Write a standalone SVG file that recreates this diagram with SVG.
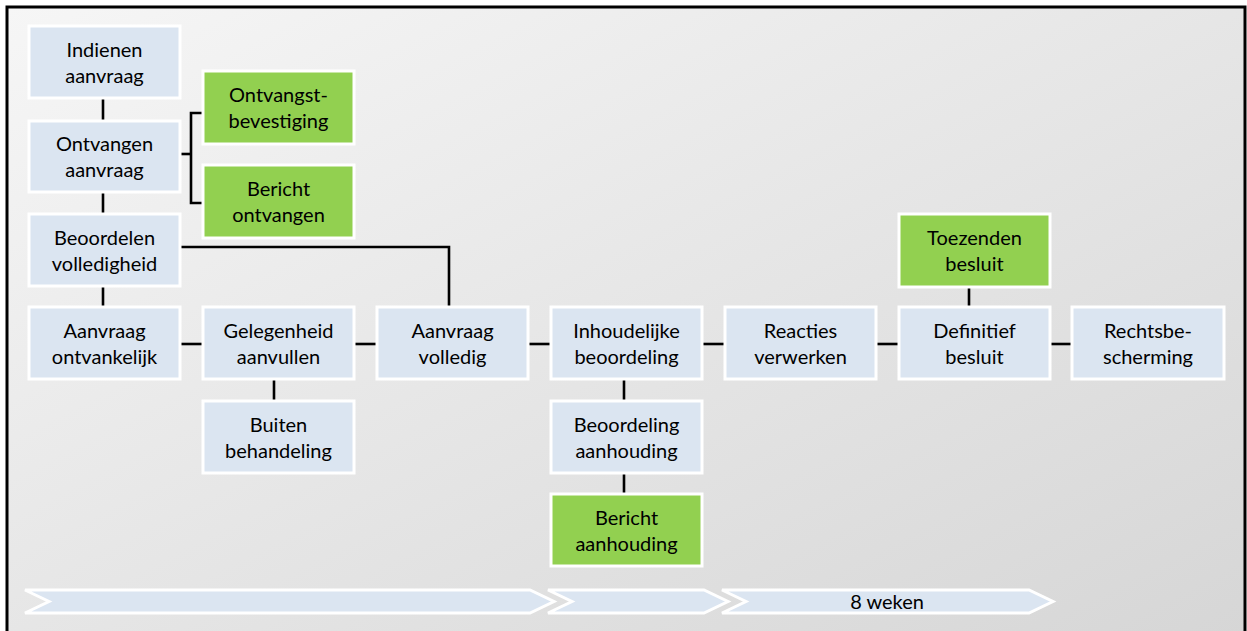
<svg xmlns="http://www.w3.org/2000/svg" width="1247" height="631" viewBox="0 0 1247 631">
  <defs>
    <linearGradient id="bg" x1="0" y1="0" x2="1" y2="1">
      <stop offset="0" stop-color="#f6f6f6"/>
      <stop offset="1" stop-color="#d6d6d6"/>
    </linearGradient>
    <style>
      .step { fill: #dbe5f1; stroke: #ffffff; stroke-width: 3; }
      .msg { fill: #92d050; stroke: #ffffff; stroke-width: 3; }
      .lbl { font-family: Lato, "Liberation Sans", sans-serif; font-size: 20px; fill: #000000; text-anchor: middle; }
      .link { fill: none; stroke: #000000; stroke-width: 2.6; }
      .phase { fill: #dbe5f1; stroke: #ffffff; stroke-width: 3; stroke-linejoin: miter; }
    </style>
  </defs>

  <!-- background panel with frame -->
  <rect x="7" y="7" width="1238" height="630" fill="url(#bg)" stroke="#000000" stroke-width="3"/>

  <!-- connectors -->
  <g id="connectors" class="link">
    <path class="link" d="M103,98 V121"/>
    <path class="link" d="M103,192 V214"/>
    <path class="link" d="M103,286 V307"/>
    <path class="link" d="M180,154 H191"/>
    <path class="link" d="M203,113 H191 V203 H203"/>
    <path class="link" d="M180,247 H449 V307"/>
    <path class="link" d="M180,344 H203"/>
    <path class="link" d="M354,344 H377"/>
    <path class="link" d="M528,344 H551"/>
    <path class="link" d="M702,344 H725"/>
    <path class="link" d="M876,344 H899"/>
    <path class="link" d="M1050,344 H1072"/>
    <path class="link" d="M274,379 V401"/>
    <path class="link" d="M624,379 V401"/>
    <path class="link" d="M624,473 V494"/>
    <path class="link" d="M969,287 V307"/>
  </g>

  <!-- process steps -->
  <g id="indienen-aanvraag">
    <rect class="step" x="29" y="26" width="151" height="72"/>
    <text class="lbl" x="104.5" y="57">Indienen</text>
    <text class="lbl" x="104.5" y="83">aanvraag</text>
  </g>
  <g id="ontvangen-aanvraag">
    <rect class="step" x="29" y="121" width="151" height="71"/>
    <text class="lbl" x="104.5" y="151">Ontvangen</text>
    <text class="lbl" x="104.5" y="177">aanvraag</text>
  </g>
  <g id="beoordelen-volledigheid">
    <rect class="step" x="29" y="214" width="151" height="72"/>
    <text class="lbl" x="104.5" y="245">Beoordelen</text>
    <text class="lbl" x="104.5" y="271">volledigheid</text>
  </g>
  <g id="aanvraag-ontvankelijk">
    <rect class="step" x="29" y="307" width="151" height="72"/>
    <text class="lbl" x="104.5" y="338">Aanvraag</text>
    <text class="lbl" x="104.5" y="364">ontvankelijk</text>
  </g>
  <g id="ontvangstbevestiging">
    <rect class="msg" x="203" y="71" width="151" height="73"/>
    <text class="lbl" x="278.5" y="102">Ontvangst-</text>
    <text class="lbl" x="278.5" y="128">bevestiging</text>
  </g>
  <g id="bericht-ontvangen">
    <rect class="msg" x="203" y="165" width="151" height="73"/>
    <text class="lbl" x="278.5" y="196">Bericht</text>
    <text class="lbl" x="278.5" y="222">ontvangen</text>
  </g>
  <g id="gelegenheid-aanvullen">
    <rect class="step" x="203" y="307" width="151" height="72"/>
    <text class="lbl" x="278.5" y="338">Gelegenheid</text>
    <text class="lbl" x="278.5" y="364">aanvullen</text>
  </g>
  <g id="buiten-behandeling">
    <rect class="step" x="203" y="401" width="151" height="72"/>
    <text class="lbl" x="278.5" y="432">Buiten</text>
    <text class="lbl" x="278.5" y="458">behandeling</text>
  </g>
  <g id="aanvraag-volledig">
    <rect class="step" x="377" y="307" width="151" height="72"/>
    <text class="lbl" x="452.5" y="338">Aanvraag</text>
    <text class="lbl" x="452.5" y="364">volledig</text>
  </g>
  <g id="inhoudelijke-beoordeling">
    <rect class="step" x="551" y="307" width="151" height="72"/>
    <text class="lbl" x="626.5" y="338">Inhoudelijke</text>
    <text class="lbl" x="626.5" y="364">beoordeling</text>
  </g>
  <g id="beoordeling-aanhouding">
    <rect class="step" x="551" y="401" width="151" height="72"/>
    <text class="lbl" x="626.5" y="432">Beoordeling</text>
    <text class="lbl" x="626.5" y="458">aanhouding</text>
  </g>
  <g id="bericht-aanhouding">
    <rect class="msg" x="551" y="494" width="151" height="72"/>
    <text class="lbl" x="626.5" y="525">Bericht</text>
    <text class="lbl" x="626.5" y="551">aanhouding</text>
  </g>
  <g id="reacties-verwerken">
    <rect class="step" x="725" y="307" width="151" height="72"/>
    <text class="lbl" x="800.5" y="338">Reacties</text>
    <text class="lbl" x="800.5" y="364">verwerken</text>
  </g>
  <g id="toezenden-besluit">
    <rect class="msg" x="899" y="214" width="151" height="73"/>
    <text class="lbl" x="974.5" y="245">Toezenden</text>
    <text class="lbl" x="974.5" y="271">besluit</text>
  </g>
  <g id="definitief-besluit">
    <rect class="step" x="899" y="307" width="151" height="72"/>
    <text class="lbl" x="974.5" y="338">Definitief</text>
    <text class="lbl" x="974.5" y="364">besluit</text>
  </g>
  <g id="rechtsbescherming">
    <rect class="step" x="1072" y="307" width="152" height="72"/>
    <text class="lbl" x="1148" y="338">Rechtsbe-</text>
    <text class="lbl" x="1148" y="364">scherming</text>
  </g>

  <!-- timeline phases -->
  <g id="phase-1">
    <polygon class="phase" points="25,590 530,590 554,601.5 530,613 25,613 49,601.5"/>
  </g>
  <g id="phase-2">
    <polygon class="phase" points="548,590 704,590 728,601.5 704,613 548,613 572,601.5"/>
  </g>
  <g id="phase-3">
    <polygon class="phase" points="722,590 1029,590 1053,601.5 1029,613 722,613 746,601.5"/>
    <text class="lbl" x="887" y="609">8 weken</text>
  </g>
</svg>
